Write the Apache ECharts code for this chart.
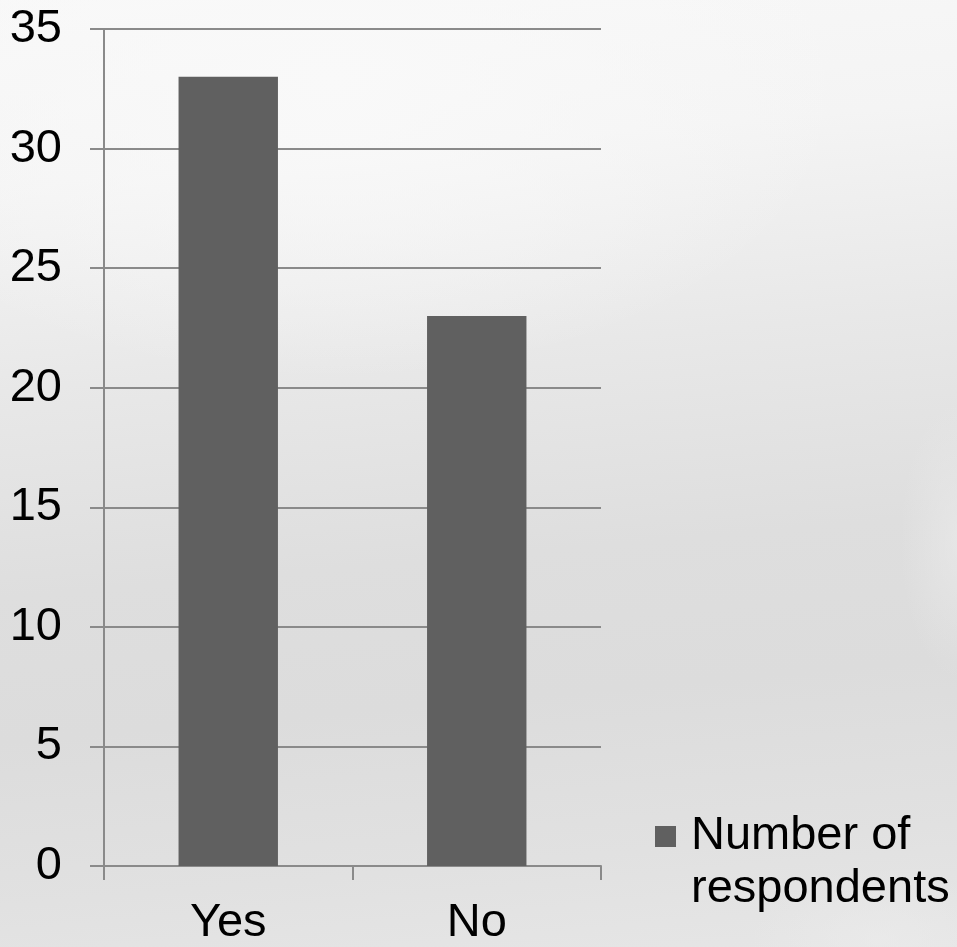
<!DOCTYPE html>
<html>
<head>
<meta charset="utf-8">
<script src="https://cdn.jsdelivr.net/npm/echarts@6/dist/echarts.min.js"></script>
<style>
  html, body { margin: 0; padding: 0; }
  body {
    width: 957px; height: 947px; overflow: hidden;
    background:
      radial-gradient(ellipse 60px 140px at 960px 540px, rgba(236,236,236,0.6), rgba(236,236,236,0) 100%),
      radial-gradient(ellipse 130px 70px at 880px 940px, rgba(236,236,236,0.6), rgba(236,236,236,0) 100%),
      radial-gradient(ellipse 520px 300px at 330px 80px, rgba(249,249,249,1), rgba(249,249,249,0) 100%),
      linear-gradient(175deg, #f8f8f8 0%, #f4f4f4 18%, #e8e8e8 38%, #dedede 58%, #dcdcdc 72%, #e1e1e1 88%, #e6e6e6 100%);
  }
  #main { width: 957px; height: 947px; }
</style>
</head>
<body>
<div id="main"></div>
<script>
const categories = ['Yes', 'No'];
const seriesName = 'Number of respondents';
const values = [33, 23];
const yTicks = { min: 0, max: 35, interval: 5 };

const chart = echarts.init(document.getElementById('main'), null, { renderer: 'canvas' });
const font = '"Liberation Sans", Arial, sans-serif';
const lineColor = '#8a8a8a';

chart.setOption({
  backgroundColor: 'transparent',
  animation: false,
  grid: { left: 104, right: 356, top: 29, bottom: 76, containLabel: false },
  legend: {
    data: [seriesName],
    left: 655,
    top: 757,
    padding: 0,
    itemWidth: 21,
    itemHeight: 21,
    itemGap: 0,
    icon: 'rect',
    formatter: function () { return '\nNumber of\nrespondents'; },
    textStyle: { fontFamily: font, fontSize: 47, color: '#000', lineHeight: 53, padding: [0, 0, 0, 10] }
  },
  xAxis: {
    type: 'category',
    data: categories,
    axisLine: { show: true, lineStyle: { color: lineColor, width: 2 } },
    axisTick: { show: true, length: 14, alignWithLabel: false, lineStyle: { color: lineColor, width: 2 } },
    axisLabel: { fontFamily: font, fontSize: 47, color: '#000', margin: 34 },
    splitLine: { show: false }
  },
  yAxis: {
    type: 'value',
    min: yTicks.min, max: yTicks.max, interval: yTicks.interval,
    axisLine: { show: true, lineStyle: { color: lineColor, width: 2 } },
    axisTick: { show: true, length: 14, lineStyle: { color: lineColor, width: 2 } },
    axisLabel: { fontFamily: font, fontSize: 47, color: '#000', margin: 42 },
    splitLine: { show: true, lineStyle: { color: lineColor, width: 2 } }
  },
  series: [{
    name: seriesName,
    type: 'bar',
    data: values,
    barWidth: '40%',
    itemStyle: { color: '#606060' }
  }]
});
</script>
</body>
</html>
